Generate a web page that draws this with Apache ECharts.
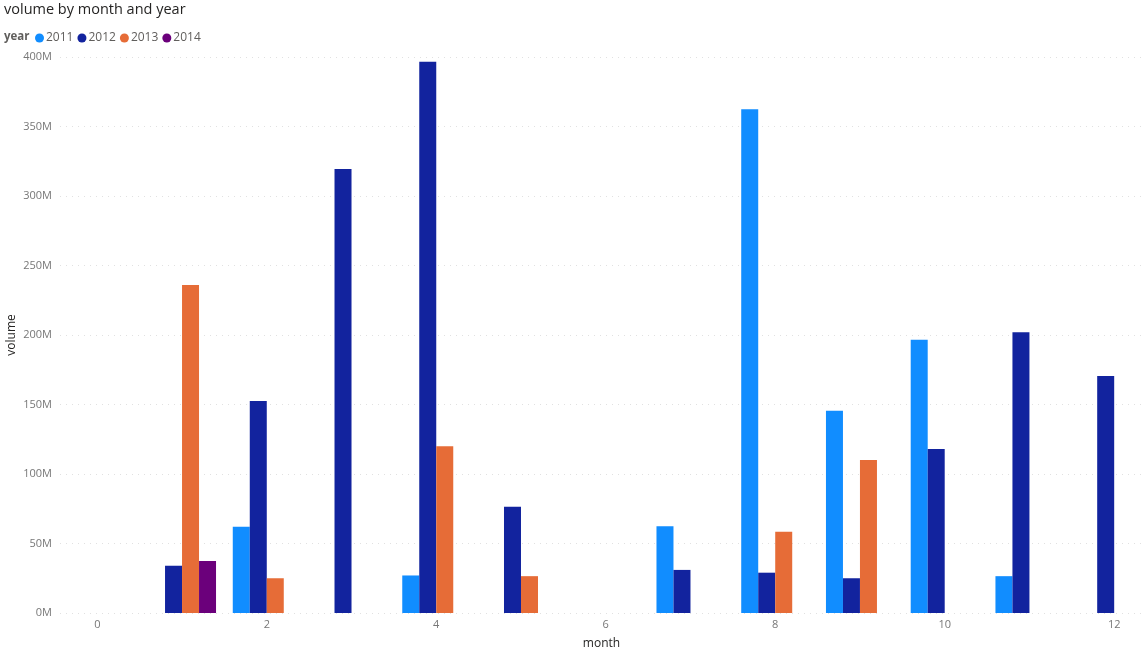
<!DOCTYPE html>
<html>
<head>
<meta charset="utf-8">
<script src="https://cdn.jsdelivr.net/npm/echarts@6/dist/echarts.min.js"></script>
<style>
html,body{margin:0;padding:0;background:#fff;overflow:hidden;}
#chart{width:1145px;height:652px;}
</style>
</head>
<body>
<div id="chart"></div>
<script>
var months = [1, 2, 3, 4, 5, 6, 7, 8, 9, 10, 11, 12];
var years = ['2011', '2012', '2013', '2014'];
var vol2011 = [null, 62, null, 27, null, null, 62.5, 362.5, 145.5, 196.5, 26.5, null];
var vol2012 = [34, 152.5, 319.5, 396.5, 76.5, null, 31, 29, 25, 118, 202, 170.5];
var vol2013 = [236, 25, null, 120, 26.5, null, null, 58.5, 110, null, null, null];
var vol2014 = [37.5, null, null, null, null, null, null, null, null, null, null, null];
var xTickLabels = [0, 2, 4, 6, 8, 10, 12];
var yearColors = ['#118DFF', '#12239E', '#E66C37', '#6B007B'];

var seriesValues = [vol2011, vol2012, vol2013, vol2014];
var FONT = '"Open Sans", "Segoe UI", sans-serif';

function pairs(vals) {
  var out = [];
  for (var i = 0; i < months.length; i++) {
    if (vals[i] != null) out.push([months[i], vals[i] * 1e6]);
  }
  return out;
}

var series = years.map(function (y, i) {
  return {
    name: y,
    type: 'bar',
    data: pairs(seriesValues[i]),
    barWidth: 17,
    barGap: '0%',
    itemStyle: { color: yearColors[i] }
  };
});

var chart = echarts.init(document.getElementById('chart'));
chart.setOption({
  animation: false,
  color: yearColors,
  textStyle: { fontFamily: FONT },
  title: {
    text: 'volume by month and year',
    left: 4, top: 2, padding: 0,
    textStyle: { fontFamily: FONT, fontSize: 14.5, fontWeight: 'normal', color: '#252423' }
  },
  graphic: [{
    type: 'text', left: 4, top: 31,
    style: { text: 'year', font: 'bold 11.5px ' + FONT, fill: '#605E5C' }
  }, {
    type: 'text', x: 12, y: 335, rotation: Math.PI / 2,
    style: { text: 'volume', font: '12px ' + FONT, fill: '#252423', align: 'center', verticalAlign: 'middle' }
  }],
  legend: {
    left: 35, top: 32,
    padding: 0,
    icon: 'circle',
    itemWidth: 9, itemHeight: 9, itemGap: 4,
    textStyle: { fontFamily: FONT, fontSize: 12, color: '#605E5C', padding: [0, 0, 0, -3] },
    data: years
  },
  grid: { left: 60, right: 2, top: 57, bottom: 39, containLabel: false, outerBoundsMode: 'none' },
  xAxis: {
    type: 'value',
    min: -0.44, max: 12.34,
    name: 'month', nameLocation: 'middle', nameGap: 25,
    nameTextStyle: { fontFamily: FONT, fontSize: 12, color: '#252423' },
    axisLine: { show: false }, axisTick: { show: false },
    splitLine: { show: false },
    axisLabel: {
      customValues: xTickLabels,
      color: '#777', fontSize: 11, fontFamily: FONT, margin: 6
    }
  },
  yAxis: {
    type: 'value',
    min: 0, max: 400e6, interval: 50e6,
    axisLine: { show: false }, axisTick: { show: false },
    splitLine: { lineStyle: { color: '#E1E1E1', type: [1, 5], width: 1 } },
    axisLabel: {
      color: '#777', fontSize: 11, fontFamily: FONT, margin: 8,
      formatter: function (v) { return Math.round(v / 1e6) + 'M'; }
    }
  },
  series: series
});
</script>
</body>
</html>
